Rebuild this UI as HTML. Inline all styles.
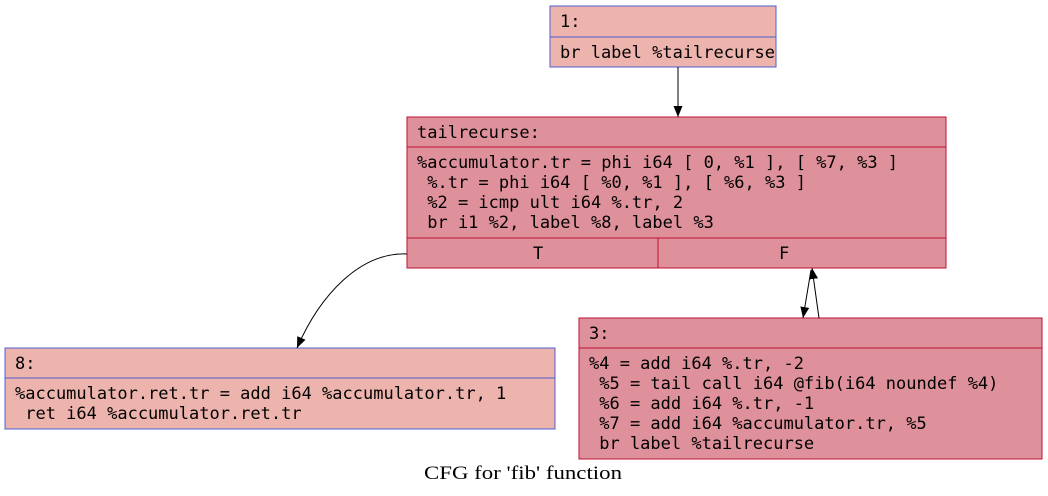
<!DOCTYPE html>
<html><head><meta charset="utf-8"><style>
html,body{margin:0;padding:0;background:#fff;width:1048px;height:496px;overflow:hidden}
.t{font-family:"DejaVu Sans Mono","Liberation Mono",monospace;font-size:17px;}
</style></head><body>
<svg width="1048" height="496" xmlns="http://www.w3.org/2000/svg">
<defs><marker id="a" markerWidth="12" markerHeight="12" refX="11" refY="6" orient="auto" markerUnits="userSpaceOnUse"><path d="M0,1.5 L11,6 L0,10.5 z" fill="#000"/></marker></defs>
<rect x="550" y="6" width="226" height="61" fill="#edb3ad" stroke="#4f5fd0" stroke-width="1"/>
<line x1="550" y1="37" x2="776" y2="37" stroke="#4f5fd0"/>
<text class="t" x="560" y="27">1:</text>
<text class="t" x="560" y="58">br label %tailrecurse</text>
<rect x="407" y="117" width="539" height="151" fill="#de909b" stroke="#c01035" stroke-width="1"/>
<line x1="407" y1="147" x2="946" y2="147" stroke="#c01035"/>
<line x1="407" y1="238" x2="946" y2="238" stroke="#c01035"/>
<line x1="658" y1="238" x2="658" y2="268" stroke="#c01035"/>
<text class="t" x="417" y="138">tailrecurse:</text>
<text class="t" x="417" y="168" xml:space="preserve">%accumulator.tr = phi i64 [ 0, %1 ], [ %7, %3 ]</text>
<text class="t" x="417" y="188" xml:space="preserve"> %.tr = phi i64 [ %0, %1 ], [ %6, %3 ]</text>
<text class="t" x="417" y="208" xml:space="preserve"> %2 = icmp ult i64 %.tr, 2</text>
<text class="t" x="417" y="228" xml:space="preserve"> br i1 %2, label %8, label %3</text>
<text class="t" x="533" y="259">T</text>
<text class="t" x="779" y="259">F</text>
<rect x="5" y="348" width="550" height="81" fill="#edb3ad" stroke="#4f5fd0" stroke-width="1"/>
<line x1="5" y1="378" x2="555" y2="378" stroke="#4f5fd0"/>
<text class="t" x="15" y="369">8:</text>
<text class="t" x="15" y="399" xml:space="preserve">%accumulator.ret.tr = add i64 %accumulator.tr, 1</text>
<text class="t" x="15" y="419" xml:space="preserve"> ret i64 %accumulator.ret.tr</text>
<rect x="579" y="318" width="463" height="141" fill="#de909b" stroke="#c01035" stroke-width="1"/>
<line x1="579" y1="348" x2="1042" y2="348" stroke="#c01035"/>
<text class="t" x="589" y="339">3:</text>
<text class="t" x="589" y="369" xml:space="preserve">%4 = add i64 %.tr, -2</text>
<text class="t" x="589" y="389" xml:space="preserve"> %5 = tail call i64 @fib(i64 noundef %4)</text>
<text class="t" x="589" y="409" xml:space="preserve"> %6 = add i64 %.tr, -1</text>
<text class="t" x="589" y="429" xml:space="preserve"> %7 = add i64 %accumulator.tr, %5</text>
<text class="t" x="589" y="449" xml:space="preserve"> br label %tailrecurse</text>
<line x1="678" y1="67" x2="678" y2="117" stroke="#000" marker-end="url(#a)"/>
<path d="M407,254 C360,252 320,295 297,348" fill="none" stroke="#000" marker-end="url(#a)"/>
<line x1="811" y1="270" x2="803" y2="318" stroke="#000" marker-end="url(#a)"/>
<line x1="819" y1="318" x2="812" y2="268" stroke="#000" marker-end="url(#a)"/>
<text x="424" y="479" textLength="198" lengthAdjust="spacingAndGlyphs" font-family="Liberation Serif,serif" font-size="19">CFG for 'fib' function</text>
</svg>
</body></html>
